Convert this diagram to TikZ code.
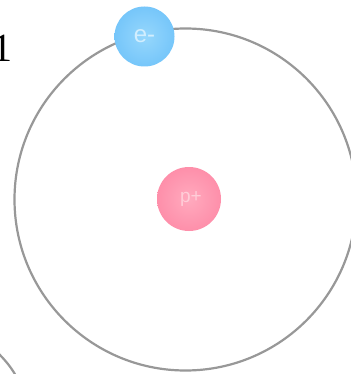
\documentclass[tikz,border=0pt]{standalone}
\usepackage{fontspec}
\setsansfont{Liberation Sans}
\newfontfamily\numfont{Liberation Serif}
\definecolor{orbitgray}{RGB}{152,152,152}
\definecolor{eblue}{RGB}{118,198,250}
\definecolor{eblueL}{RGB}{150,215,252}
\definecolor{ppink}{RGB}{254,143,170}
\definecolor{ppinkL}{RGB}{255,170,190}
\definecolor{etext}{RGB}{210,238,254}
\definecolor{ptext}{RGB}{255,205,216}
\begin{document}
\begin{tikzpicture}[x=1pt,y=-1pt,
  orbit/.style={draw=orbitgray,line width=2.2pt},
  particle/.style={circle,minimum size=#1,inner sep=0pt,font=\sffamily\fontsize{24}{24}\selectfont}]
\useasboundingbox (0,0) rectangle (350,374);
\fill[white] (0,0) rectangle (350,374);
\node[circle,minimum size=342pt,inner sep=0pt,orbit] (orbit) at (185.5,199.5) {};
\draw[orbit] (-2,353) .. controls (5,360) and (11,367) .. (16,376);
\node[particle=60pt,inner color=eblueL,outer color=eblue,text=etext] (e) at (144.5,36.5) {e-};
\node[particle=64pt,inner color=ppinkL,outer color=ppink,text=ptext,font=\sffamily\fontsize{19}{19}\selectfont] (p) at (189,199) {\hspace{4pt}p+};
\node[anchor=base east,inner sep=0pt,font=\numfont\fontsize{40}{40}\selectfont] (num) at (13,62) {1};
\end{tikzpicture}
\end{document}
